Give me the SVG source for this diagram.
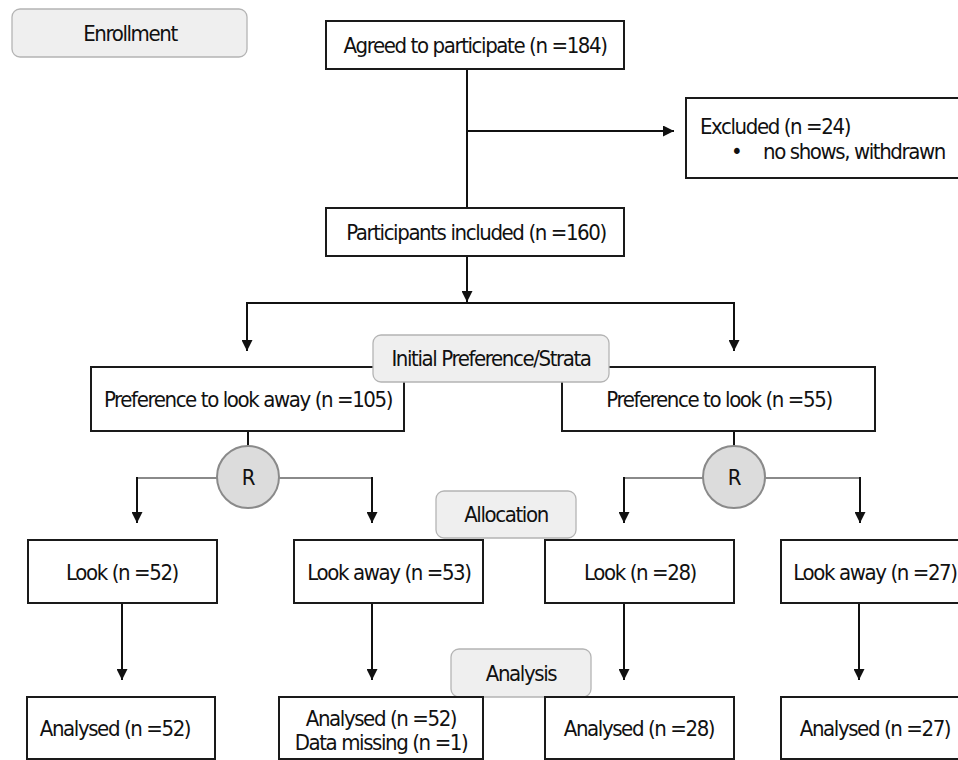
<svg xmlns="http://www.w3.org/2000/svg" width="958" height="760" viewBox="0 0 958 760">
<style>
  .box{fill:#fff;stroke:#1a1a1a;stroke-width:2}
  .lbl{fill:#efefef;stroke:#b4b4b4;stroke-width:1.3}
  .rc{fill:#dcdcdc;stroke:#8a8a8a;stroke-width:2}
  text{font-family:"DejaVu Sans Condensed","DejaVu Sans",sans-serif;font-size:22px;letter-spacing:-1.4px;fill:#111}
  .c{text-anchor:middle}
  .ln{fill:none;stroke:#111;stroke-width:2}
  .gl{fill:none;stroke:#8a8a8a;stroke-width:2}
</style>
<defs>
  <marker id="ah" markerUnits="userSpaceOnUse" markerWidth="11" markerHeight="11" refX="10" refY="5" orient="auto" viewBox="0 0 10 10">
    <path d="M0,0 L10,5 L0,10 z" fill="#111"/>
  </marker>
</defs>
<rect width="958" height="760" fill="#fff"/>
<g id="connectors">
  <path class="ln" d="M467,69 V208"/>
  <path class="ln" d="M467,131 H674" marker-end="url(#ah)"/>
  <path class="ln" d="M467,256 V302" marker-end="url(#ah)"/>
  <path class="ln" d="M247,351 V303 H734 V351" />
  <path class="ln" d="M247,310 V351" marker-end="url(#ah)"/>
  <path class="ln" d="M734,310 V351" marker-end="url(#ah)"/>
  <path class="ln" d="M248,431 V446"/>
  <path class="ln" d="M734,431 V446"/>
  <path class="gl" d="M137,478 H372"/>
  <path class="gl" d="M624,478 H860"/>
  <path class="ln" d="M137,477 V523" marker-end="url(#ah)"/>
  <path class="ln" d="M372,477 V523" marker-end="url(#ah)"/>
  <path class="ln" d="M624,477 V523" marker-end="url(#ah)"/>
  <path class="ln" d="M860,477 V523" marker-end="url(#ah)"/>
  <path class="ln" d="M122,603 V680" marker-end="url(#ah)"/>
  <path class="ln" d="M372,603 V680" marker-end="url(#ah)"/>
  <path class="ln" d="M624,603 V680" marker-end="url(#ah)"/>
  <path class="ln" d="M859,603 V680" marker-end="url(#ah)"/>
</g>
<g id="enrollment"><rect class="lbl" x="12" y="9" width="235" height="48" rx="8"/><text class="c" x="130" y="41">Enrollment</text></g>
<g id="agreed"><rect class="box" x="326" y="21" width="298" height="48"/><text class="c" x="475" y="53">Agreed to participate (n =184)</text></g>
<g id="excluded"><rect class="box" x="686" y="98" width="290" height="80"/><text x="700" y="134">Excluded (n =24)</text><text x="731" y="159">•</text><text x="763" y="159">no shows, withdrawn</text></g>
<g id="included"><rect class="box" x="326" y="208" width="298" height="48"/><text class="c" x="476" y="240">Participants included (n =160)</text></g>
<g id="pref-away"><rect class="box" x="91" y="367" width="313" height="64"/><text class="c" x="248" y="407">Preference to look away (n =105)</text></g>
<g id="pref-look"><rect class="box" x="562" y="367" width="313" height="64"/><text class="c" x="719" y="407">Preference to look (n =55)</text></g>
<g id="strata"><rect class="lbl" x="373" y="335" width="236" height="47" rx="8"/><text class="c" x="491" y="366">Initial Preference/Strata</text></g>
<g id="r-left"><circle class="rc" cx="248" cy="477" r="31"/><text class="c" x="248" y="485">R</text></g>
<g id="r-right"><circle class="rc" cx="734" cy="477" r="31"/><text class="c" x="734" y="485">R</text></g>
<g id="allocation"><rect class="lbl" x="436" y="491" width="140" height="47" rx="8"/><text class="c" x="506" y="522">Allocation</text></g>
<g id="look52"><rect class="box" x="28" y="540" width="189" height="63"/><text class="c" x="122" y="580">Look (n =52)</text></g>
<g id="away53"><rect class="box" x="294" y="540" width="189" height="63"/><text class="c" x="389" y="580">Look away (n =53)</text></g>
<g id="look28"><rect class="box" x="545" y="540" width="189" height="63"/><text class="c" x="640" y="580">Look (n =28)</text></g>
<g id="away27"><rect class="box" x="781" y="540" width="189" height="63"/><text class="c" x="875" y="580">Look away (n =27)</text></g>
<g id="analysis"><rect class="lbl" x="451" y="649" width="140" height="48" rx="8"/><text class="c" x="521" y="681">Analysis</text></g>
<g id="an52"><rect class="box" x="27" y="697" width="188" height="62"/><text class="c" x="115" y="736">Analysed (n =52)</text></g>
<g id="an52b"><rect class="box" x="279" y="697" width="204" height="62"/><text class="c" x="381" y="726">Analysed (n =52)</text><text class="c" x="381" y="750">Data missing (n =1)</text></g>
<g id="an28"><rect class="box" x="545" y="697" width="189" height="62"/><text class="c" x="639" y="736">Analysed (n =28)</text></g>
<g id="an27"><rect class="box" x="781" y="697" width="189" height="62"/><text class="c" x="875" y="736">Analysed (n =27)</text></g>
</svg>
